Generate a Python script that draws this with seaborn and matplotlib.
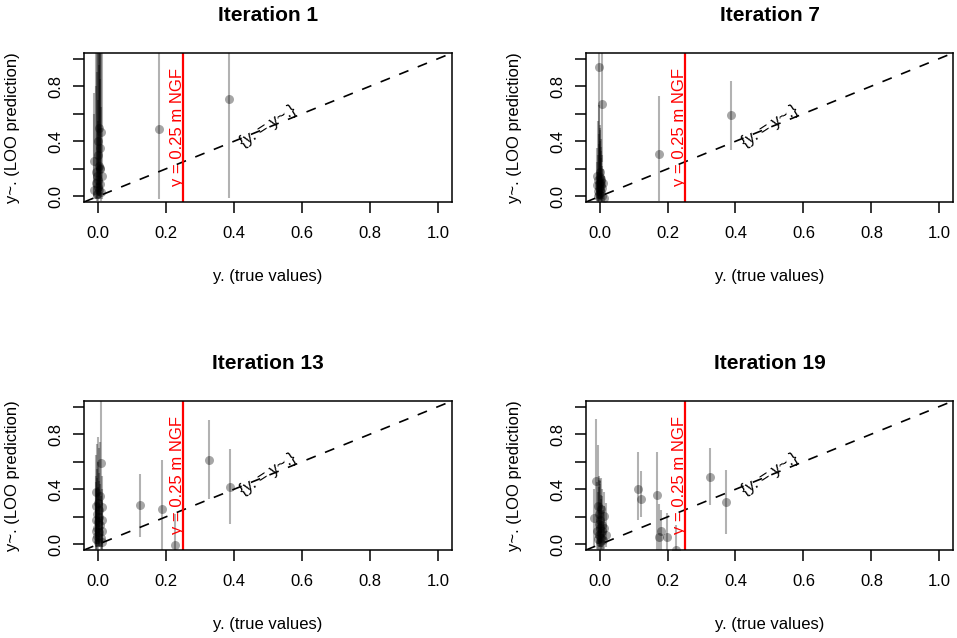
import numpy as np
import pandas as pd
import matplotlib
matplotlib.use('Agg')
import matplotlib.pyplot as plt
import seaborn as sns

# Iteration 1: true value, LOO prediction, lower / upper bound of interval
it1_true = [-0.010, -0.010, -0.004, -0.003, -0.002, 0.000, 0.001, 0.002, 0.003, 0.004,
            0.005, 0.006, 0.007, 0.008, 0.009, 0.010, 0.012, 0.006, -0.006, 0.002,
            0.180, 0.385]
it1_pred = [0.26, 0.045, 0.10, 0.02, 0.15, 0.07, 0.30, 0.12, 0.05, 0.22,
            0.50, 0.20, 0.09, 0.35, 0.03, 0.47, 0.15, 0.21, 0.18, 0.40,
            0.49, 0.71]
it1_lo = [0.00, -0.02, -0.02, -0.03, -0.01, -0.02, 0.00, -0.03, -0.02, 0.00,
          0.05, 0.00, -0.02, 0.02, -0.03, 0.04, -0.02, -0.01, -0.02, 0.01,
          -0.02, -0.01]
it1_hi = [0.75, 0.60, 1.20, 1.10, 0.90, 0.70, 1.15, 0.55, 0.95, 1.30,
          1.40, 0.85, 1.25, 1.35, 0.65, 1.30, 1.10, 1.05, 0.80, 1.20,
          1.30, 1.30]

# Iteration 7
it7_true = [-0.008, -0.009, -0.006, -0.004, -0.003, -0.002, 0.000, 0.001, 0.002, 0.003,
            0.004, 0.005, 0.006, 0.008, 0.010, 0.012, -0.001, 0.001, -0.005, 0.003,
            -0.003, 0.007, 0.174, 0.388]
it7_pred = [0.15, 0.08, 0.04, 0.12, 0.06, 0.02, 0.10, 0.05, 0.14, 0.03,
            0.08, 0.11, 0.00, 0.06, 0.10, -0.01, 0.09, 0.18, 0.00, 0.13,
            0.94, 0.67, 0.31, 0.59]
it7_lo = [-0.02, -0.03, -0.03, -0.01, -0.03, -0.04, -0.02, -0.03, 0.00, -0.04,
          -0.02, -0.01, -0.04, -0.03, -0.02, -0.04, -0.02, 0.01, -0.04, -0.01,
          0.10, 0.25, -0.03, 0.34]
it7_hi = [0.35, 0.25, 0.30, 0.55, 0.45, 0.38, 0.48, 0.52, 0.40, 0.33,
          0.42, 0.28, 0.22, 0.30, 0.20, 0.15, 0.66, 0.50, 0.18, 0.36,
          1.30, 1.30, 0.73, 0.84]

# Iteration 13
it13_true = [-0.005, -0.006, -0.006, -0.006, -0.005, -0.003, -0.002, -0.001, 0.000, 0.001,
             0.002, 0.003, 0.004, 0.005, 0.006, 0.008, 0.010, 0.012, 0.012, 0.012,
             0.013, 0.011, 0.124, 0.188, 0.226, 0.327, 0.388]
it13_pred = [0.38, 0.28, 0.18, 0.10, 0.04, 0.22, 0.12, 0.06, 0.30, 0.16,
             0.02, 0.25, 0.09, 0.20, 0.35, 0.14, 0.05, 0.27, 0.18, 0.10,
             0.02, 0.59, 0.284, 0.255, -0.007, 0.61, 0.42]
it13_lo = [0.05, 0.00, -0.02, -0.03, -0.04, 0.00, -0.02, -0.03, 0.02, -0.01,
           -0.04, 0.00, -0.02, -0.01, 0.05, -0.02, -0.03, 0.00, -0.02, -0.03,
           -0.04, 0.30, 0.055, -0.04, -0.05, 0.33, 0.145]
it13_hi = [0.65, 0.50, 0.45, 0.40, 0.30, 0.73, 0.55, 0.48, 0.78, 0.60,
           0.42, 0.70, 0.46, 0.52, 0.74, 0.44, 0.35, 0.50, 0.40, 0.32,
           0.20, 1.30, 0.51, 0.61, 0.22, 0.90, 0.69]

# Iteration 19
it19_true = [-0.011, -0.004, -0.015, -0.008, -0.006, -0.003, -0.002, -0.001, 0.000, 0.001,
             0.002, 0.003, 0.004, 0.005, 0.006, 0.008, 0.010, 0.014, 0.020, 0.012,
             0.113, 0.122, 0.170, 0.175, 0.180, 0.198, 0.226, 0.326, 0.371]
it19_pred = [0.46, 0.28, 0.19, 0.10, 0.04, 0.15, 0.22, 0.07, 0.12, 0.02,
             0.18, 0.08, 0.26, 0.05, 0.14, 0.10, 0.03, 0.21, 0.07, 0.12,
             0.40, 0.33, 0.36, 0.055, 0.097, 0.053, -0.04, 0.49, 0.31]
it19_lo = [0.05, 0.00, -0.02, -0.03, -0.04, -0.02, 0.00, -0.03, -0.02, -0.04,
           -0.01, -0.03, 0.02, -0.04, -0.02, -0.03, -0.04, 0.00, -0.02, -0.03,
           0.18, 0.20, -0.04, -0.04, -0.04, -0.04, -0.05, 0.285, 0.075]
it19_hi = [0.91, 0.72, 0.40, 0.45, 0.38, 0.50, 0.47, 0.42, 0.44, 0.30,
           0.46, 0.36, 0.48, 0.33, 0.40, 0.35, 0.25, 0.38, 0.30, 0.28,
           0.67, 0.53, 0.67, 0.29, 0.25, 0.23, 0.14, 0.70, 0.54]

tick_vals = [0.0, 0.2, 0.4, 0.6, 0.8, 1.0]
x_tick_labels = ['0.0', '0.2', '0.4', '0.6', '0.8', '1.0']
y_tick_labels = ['0.0', '', '0.4', '', '0.8', '']

sns.set_style('ticks')
plt.rcParams['font.family'] = ['Liberation Sans', 'DejaVu Sans']
plt.rcParams['text.color'] = 'black'
plt.rcParams['axes.labelcolor'] = 'black'
plt.rcParams['xtick.color'] = 'black'
plt.rcParams['ytick.color'] = 'black'

panels = [
    ('Iteration 1', it1_true, it1_pred, it1_lo, it1_hi),
    ('Iteration 7', it7_true, it7_pred, it7_lo, it7_hi),
    ('Iteration 13', it13_true, it13_pred, it13_lo, it13_hi),
    ('Iteration 19', it19_true, it19_pred, it19_lo, it19_hi),
]
boxes = [
    [0.0878, 0.6834, 0.3845, 0.2335],
    [0.6123, 0.6834, 0.3835, 0.2335],
    [0.0878, 0.1379, 0.3845, 0.2336],
    [0.6123, 0.1379, 0.3835, 0.2336],
]

fig = plt.figure(figsize=(9.57, 6.38), dpi=100)

for (title, xt, yp, lo, hi), box in zip(panels, boxes):
    ax = fig.add_axes(box)
    df = pd.DataFrame({'true': xt, 'pred': yp, 'lo': lo, 'hi': hi})
    ax.vlines(df['true'], df['lo'], df['hi'], color='black', alpha=0.3, lw=1.5)
    sns.scatterplot(data=df, x='true', y='pred', ax=ax, color='black',
                    alpha=0.35, s=42, linewidth=0, zorder=3)
    ax.axline((0, 0), slope=1, color='black', ls=(0, (6, 6)), lw=1.2)
    ax.axvline(0.25, color='red', lw=1.6)
    ax.text(0.257, 0.505, 'y = 0.25 m NGF', rotation=90, color='red',
            ha='right', va='center', fontsize=12)
    ax.text(0.50, 0.51, '{y. = y~.}', rotation=33, color='black',
            ha='center', va='center', fontsize=12)

    ax.set_xlim(-0.04, 1.04)
    ax.set_ylim(-0.04, 1.04)
    ax.set_xticks(tick_vals)
    ax.set_xticklabels(x_tick_labels)
    ax.set_yticks(tick_vals)
    ax.set_yticklabels(y_tick_labels, rotation=90, va='center')
    ax.tick_params(axis='both', direction='out', length=8, width=1.1,
                   labelsize=12, color='black', labelcolor='black')
    ax.tick_params(axis='x', pad=9)
    ax.tick_params(axis='y', pad=7)
    for sp in ax.spines.values():
        sp.set_visible(True)
        sp.set_linewidth(1.1)
        sp.set_color('black')

    ax.set_xlabel('y. (true values)', fontsize=12, color='black')
    ax.set_ylabel('y~. (LOO prediction)', fontsize=12, color='black')
    ax.xaxis.set_label_coords(0.5, -0.45)
    ax.yaxis.set_label_coords(-0.173, 0.5)
    ax.set_title(title, fontsize=15, fontweight='bold', pad=23, color='black')

fig.savefig('out.png', dpi=100)
